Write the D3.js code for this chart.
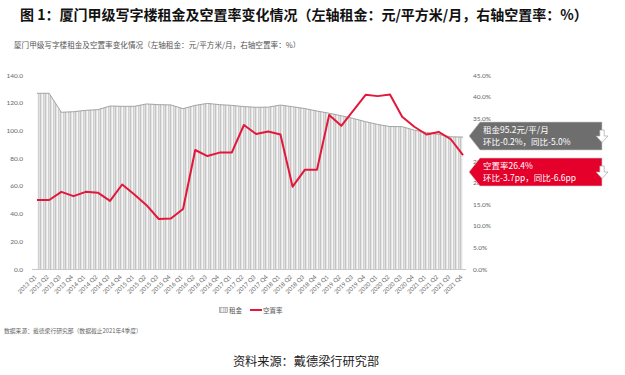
<!DOCTYPE html>
<html><head><meta charset="utf-8">
<script src="https://cdn.jsdelivr.net/npm/d3@7/dist/d3.min.js"></script>
<style>
html,body{margin:0;padding:0;background:#fff;}
svg{display:block;font-family:"Noto Sans CJK SC","Noto Sans",sans-serif;}
</style></head><body>
<svg id="c" width="625" height="375"></svg>
<script>
const categories = ["2013 Q1","2013 Q2","2013 Q3","2013 Q4","2014 Q1","2014 Q2","2014 Q3","2014 Q4","2015 Q1","2015 Q2","2015 Q3","2015 Q4","2016 Q1","2016 Q2","2016 Q3","2016 Q4","2017 Q1","2017 Q2","2017 Q3","2017 Q4","2018 Q1","2018 Q2","2018 Q3","2018 Q4","2019 Q1","2019 Q2","2019 Q3","2019 Q4","2020 Q1","2020 Q2","2020 Q3","2020 Q4","2021 Q1","2021 Q2","2021 Q3","2021 Q4"];
const rent = [126.8,126.8,113.1,113.5,114.5,115.0,117.6,117.4,117.4,119.1,118.6,118.4,115.7,118.1,119.5,118.6,118.1,117.2,116.7,116.8,118.3,117.1,115.8,114.0,112.4,110.6,108.6,106.3,104.3,102.8,102.7,100.2,98.5,97.1,95.4,95.2];
const vacancy = [16.0,16.0,17.9,16.9,17.9,17.7,15.8,19.6,17.3,14.8,11.6,11.7,13.9,27.6,26.2,27.0,27.0,33.4,31.3,31.9,31.2,19.1,23.0,23.0,35.7,33.2,36.8,40.4,40.1,40.5,35.3,33.0,31.2,31.8,30.1,26.4];
const leftTicks = [0,20,40,60,80,100,120,140];
const rightTicks = [0,5,10,15,20,25,30,35,40,45];
const title = "图 1：厦门甲级写字楼租金及空置率变化情况（左轴租金：元/平方米/月，右轴空置率：%）";
const subtitle = "厦门甲级写字楼租金及空置率变化情况（左轴租金：元/平方米/月，右轴空置率：%）";
const seriesNames = ["租金","空置率"];
const rentNote = ["租金95.2元/平/月","环比-0.2%，同比-5.0%"];
const vacNote = ["空置率26.4%","环比-3.7pp，同比-6.6pp"];
const footnote = "数据来源：戴德梁行研究部（数据截止2021年4季度）";
const source = "资料来源：戴德梁行研究部";

const RED = "#e3173a", GRAY = "#6e6e6e";
const svg = d3.select("#c");
const defs = svg.append("defs");
const pat = defs.append("pattern").attr("id","stripes").attr("patternUnits","userSpaceOnUse")
  .attr("width",5).attr("height",10);
["#c4c4c4","#e4e4e4","#f6f6f6","#d0d0d0","#e0e0e0"].forEach((c,i)=>
  pat.append("rect").attr("x",i).attr("y",0).attr("width",1).attr("height",10).attr("fill",c));

const x = d3.scalePoint().domain(categories).range([37,463]);
const yL = d3.scaleLinear().domain([0,140]).range([269,75]);
const yR = d3.scaleLinear().domain([0,45]).range([269,75]);

// title
svg.append("text").attr("x",20).attr("y",20).attr("font-size",14).attr("font-weight","bold")
  .attr("fill","#111").text(title);
svg.append("text").attr("x",14).attr("y",48).attr("font-size",7.6).attr("fill","#555").text(subtitle);

// area
const area = d3.area().x((d,i)=>x(categories[i])).y0(yL(0)).y1(d=>yL(d));
svg.append("path").datum(rent).attr("d",area).attr("fill","url(#stripes)");
svg.append("path").datum(rent).attr("d",d3.line().x((d,i)=>x(categories[i])).y(d=>yL(d)))
  .attr("fill","none").attr("stroke","#a3a3a3").attr("stroke-width",1);

// baseline
svg.append("line").attr("x1",32).attr("x2",466).attr("y1",yL(0)+0.5).attr("y2",yL(0)+0.5)
  .attr("stroke","#c8c8c8").attr("stroke-width",1);

// vacancy line
svg.append("path").datum(vacancy).attr("d",d3.line().x((d,i)=>x(categories[i])).y(d=>yR(d)))
  .attr("fill","none").attr("stroke",RED).attr("stroke-width",2).attr("stroke-linejoin","round");

// left axis
const axL = d3.axisLeft(yL).tickValues(leftTicks).tickFormat(d3.format(".1f")).tickSize(0).tickPadding(0);
const gL = svg.append("g").attr("transform","translate(23,0)").call(axL);
gL.select(".domain").remove();
gL.selectAll("text").attr("font-size",6.5).attr("fill","#666").attr("font-family","Lato,'Open Sans',sans-serif");

// right axis
const axR = d3.axisRight(yR).tickValues(rightTicks).tickFormat(d=>d3.format(".1f")(d)+"%").tickSize(0).tickPadding(0);
const gR = svg.append("g").attr("transform","translate(473,0)").call(axR);
gR.select(".domain").remove();
gR.selectAll("text").attr("font-size",6.5).attr("fill","#666").attr("font-family","Lato,'Open Sans',sans-serif");

// x axis labels
const axX = d3.axisBottom(x).tickSize(0).tickPadding(0);
const gX = svg.append("g").attr("transform","translate(0,274)").call(axX);
gX.select(".domain").remove();
gX.selectAll("text").attr("font-size",6).attr("fill","#666").attr("font-family","Lato,'Open Sans',sans-serif")
  .attr("text-anchor","end").attr("dy","0.35em")
  .attr("transform","translate(-2,2) rotate(-45)").attr("y",0).attr("x",0);

// callouts
function callout(y0,y1,fill,lines){
  const tip=469, bx=480, rx=602, ym=(y0+y1)/2;
  svg.append("path").attr("d",`M${tip},${ym}L${bx},${y0}L${rx},${y0}L${rx},${y1}L${bx},${y1}Z`)
    .attr("fill",fill).attr("stroke","#cfcfcf").attr("stroke-width",0.6);
  lines.forEach((t,i)=>svg.append("text").attr("x",483).attr("y",y0+11+i*11.8)
    .attr("font-size",8.5).attr("fill","#fff").text(t));
  // down arrow
  const cx=rx, ay=y0+8;
  svg.append("path").attr("d",`M${cx-2.2},${ay}L${cx+2.2},${ay}L${cx+2.2},${ay+6}L${cx+6},${ay+6}L${cx},${ay+12.5}L${cx-6},${ay+6}L${cx-2.2},${ay+6}Z`)
    .attr("fill","#fff").attr("stroke","#9a9a9a").attr("stroke-width",0.6);
}
callout(122,150,GRAY,rentNote);
callout(158,186,"#e4002b",vacNote);

// legend
svg.append("rect").attr("x",219.5).attr("y",307.5).attr("width",8).attr("height",5)
  .attr("fill","url(#stripes)").attr("stroke","#999").attr("stroke-width",0.7);
svg.append("text").attr("x",229).attr("y",312.5).attr("font-size",6.5).attr("fill","#555").text(seriesNames[0]);
svg.append("line").attr("x1",250).attr("x2",262).attr("y1",310).attr("y2",310).attr("stroke",RED).attr("stroke-width",2);
svg.append("text").attr("x",263).attr("y",312.5).attr("font-size",6.5).attr("fill","#555").text(seriesNames[1]);

// footnote & source
svg.append("text").attr("x",4).attr("y",333).attr("font-size",5.8).attr("fill","#666").text(footnote);
svg.append("text").attr("x",306).attr("y",366).attr("text-anchor","middle").attr("font-size",12.2)
  .attr("fill","#222").text(source);
</script>
</body></html>
